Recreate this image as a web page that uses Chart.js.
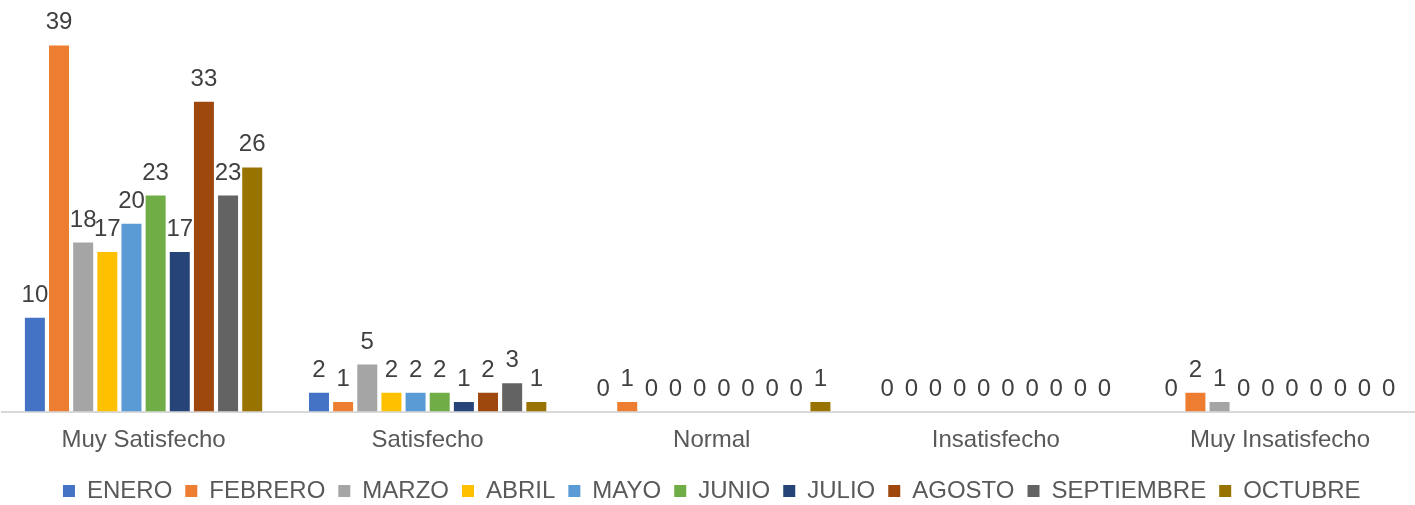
<!DOCTYPE html>
<html>
<head>
<meta charset="utf-8">
<script src="https://cdn.jsdelivr.net/npm/chart.js@4/dist/chart.umd.min.js"></script>
<style>
  html, body { margin: 0; padding: 0; background: #ffffff; overflow: hidden; }
  #wrap { width: 1415px; height: 505px; overflow: hidden; position: relative; }
  canvas { position: absolute; left: 0; top: 0; }
</style>
</head>
<body>
<div id="wrap"><canvas id="chart" width="1424" height="513"></canvas></div>
<script>
    // Categories and monthly series
    const categories = ['Muy Satisfecho', 'Satisfecho', 'Normal', 'Insatisfecho', 'Muy Insatisfecho'];
    const months = ['ENERO', 'FEBRERO', 'MARZO', 'ABRIL', 'MAYO', 'JUNIO', 'JULIO', 'AGOSTO', 'SEPTIEMBRE', 'OCTUBRE'];

    const enero      = [10, 2, 0, 0, 0];
    const febrero    = [39, 1, 1, 0, 2];
    const marzo      = [18, 5, 0, 0, 1];
    const abril      = [17, 2, 0, 0, 0];
    const mayo       = [20, 2, 0, 0, 0];
    const junio      = [23, 2, 0, 0, 0];
    const julio      = [17, 1, 0, 0, 0];
    const agosto     = [33, 2, 0, 0, 0];
    const septiembre = [23, 3, 0, 0, 0];
    const octubre    = [26, 1, 1, 0, 0];

    const seriesValues = [enero, febrero, marzo, abril, mayo, junio, julio, agosto, septiembre, octubre];
    const seriesColors = ['#4472C4', '#ED7D31', '#A5A5A5', '#FFC000', '#5B9BD5',
                          '#70AD47', '#264478', '#9E480E', '#636363', '#997300'];

    const FONT = '"Liberation Sans", Arial, sans-serif';
    Chart.defaults.font.family = FONT;

    // Value labels above every bar (zeros included)
    const valueLabels = {
        id: 'valueLabels',
        afterDatasetsDraw(chart) {
            const ctx = chart.ctx;
            ctx.save();
            ctx.font = '24px ' + FONT;
            ctx.fillStyle = '#404040';
            ctx.textAlign = 'center';
            ctx.textBaseline = 'alphabetic';
            chart.data.datasets.forEach((ds, i) => {
                const meta = chart.getDatasetMeta(i);
                meta.data.forEach((bar, j) => {
                    ctx.fillText(String(ds.data[j]), bar.x, bar.y - 16);
                });
            });
            ctx.restore();
        }
    };

    new Chart(document.getElementById('chart'), {
        type: 'bar',
        data: {
            labels: categories,
            datasets: months.map((m, i) => ({
                label: m,
                data: seriesValues[i],
                backgroundColor: seriesColors[i],
                borderWidth: 0,
                categoryPercentage: 0.85,
                barPercentage: 0.828
            }))
        },
        options: {
            responsive: false,
            animation: false,
            devicePixelRatio: 1,
            layout: {
                padding: { top: 36, left: 1.5, right: 2, bottom: 0 }
            },
            plugins: {
                tooltip: { enabled: false },
                legend: {
                    position: 'bottom',
                    labels: {
                        boxWidth: 12,
                        boxHeight: 12,
                        padding: 13,
                        color: '#595959',
                        font: { size: 24 }
                    }
                }
            },
            scales: {
                x: {
                    grid: { display: false, drawTicks: false },
                    border: { display: true, color: '#d9d9d9', width: 2 },
                    ticks: {
                        color: '#595959',
                        padding: 14,
                        font: { size: 24 }
                    },
                    afterFit: function(scale) {
                        scale.height = 54.5;
                    }
                },
                y: {
                    display: false,
                    min: 0,
                    max: 40
                }
            }
        },
        plugins: [valueLabels]
    });
</script>
</body>
</html>
